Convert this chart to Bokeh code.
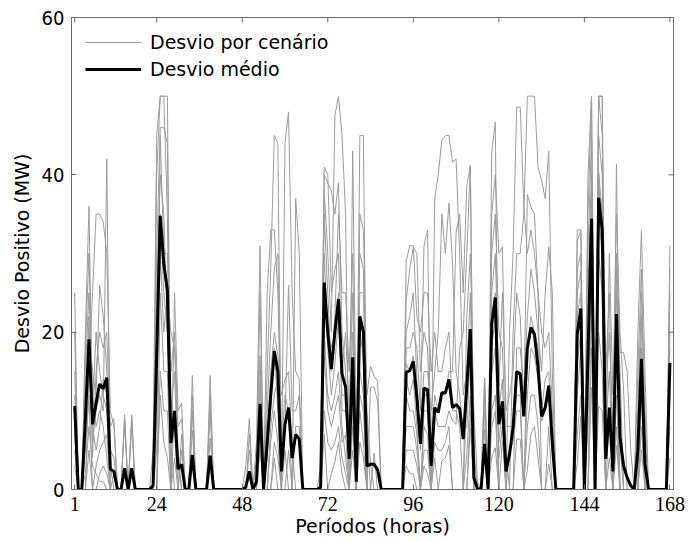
import math
from bokeh.plotting import figure
from bokeh.models import Range1d, FixedTicker, Legend, LegendItem
from bokeh.embed import file_html
from bokeh.resources import INLINE

# ---------------- data ----------------
hours = list(range(1, 169))
x_ticks = [1, 24, 48, 72, 96, 120, 144, 168]
y_ticks = [0, 20, 40, 60]
x_min, x_max = 0.1, 169
y_min, y_max = 0, 60

desvio_medio = [
    10.6, 0, 0, 9, 19.1, 8.3, 11, 13.4, 12.8, 14.2, 2.6, 2.3,
    0, 0, 2.7, 0, 2.7, 0, 0, 0, 0, 0, 0.5, 17,
    34.8, 28.7, 25.3, 5.9, 10, 2.6, 3.2, 0, 0, 4.4, 0, 0,
    0, 0, 4.3, 0, 0, 0, 0, 0, 0, 0, 0, 0,
    0.3, 2.3, 0, 1, 10.9, 0, 6, 12, 17.6, 15, 2.3, 8.3,
    10.4, 4, 7, 6.4, 0, 0, 0, 0, 0, 0.3, 26.3, 20,
    15.3, 20, 24.2, 14.7, 13, 3.9, 16.8, 1, 22, 20, 3, 3.2,
    3.2, 2.5, 0, 0, 0, 0, 0, 0, 0, 14.9, 15.1, 16.3,
    11.7, 5.8, 12.9, 12.7, 3, 10.4, 9.8, 12.3, 12.3, 14, 10.4, 10.8,
    10.3, 6.4, 13, 20.4, 1.5, 0.1, 0, 5.8, 0, 21, 24.4, 8.3,
    11.2, 2.3, 4.5, 7.9, 15, 14.7, 9.3, 18, 20.6, 19.7, 15.5, 9.3,
    10.4, 13.2, 6, 0, 0, 0, 0, 0, 0, 19.8, 23, 0,
    17, 34.4, 0, 37.1, 33, 3.9, 10.4, 2.3, 22.3, 6.6, 3, 1.5,
    0.5, 0, 5, 16.6, 3.2, 0, 0, 0, 0, 0, 0, 16.1,
]

cenario_01 = [
    12, 0, 0, 10, 20, 15, 12, 26, 22, 15, 8, 9,
    0, 0, 0, 0, 0, 0, 0, 0, 0, 0, 0, 40,
    50, 50, 50, 0, 0, 0, 0, 0, 0, 7.5, 0, 0,
    0, 0, 0, 0, 0, 0, 0, 0, 0, 0, 0, 0,
    0, 0, 0, 6, 31, 0, 0, 8, 12, 14, 0, 5,
    0, 0, 0, 0, 0, 0, 0, 0, 0, 0, 40, 39,
    38, 35, 39, 20, 15, 0, 15, 0, 15, 12, 0, 0,
    0, 0, 0, 0, 0, 0, 0, 0, 0, 20, 22, 25,
    14, 5, 12, 12, 0, 37, 40, 44.4, 45, 45, 41.6, 42,
    30, 12, 15, 25, 0, 0, 0, 0, 0, 30, 35, 20,
    18, 5, 0, 0, 0, 0, 0, 18, 22, 20, 18, 10,
    14, 15, 6, 0, 0, 0, 0, 0, 0, 25, 27.8, 0,
    40, 50, 0, 45, 40, 12, 20, 8, 28, 8, 0, 0,
    0, 0, 15, 28, 7, 0, 0, 0, 0, 0, 0, 20,
]

cenario_02 = [
    25, 0, 0, 2, 8, 3, 2, 1, 1, 0, 0, 0,
    0, 0, 0, 0, 9, 0, 0, 0, 0, 0, 0, 0,
    12, 6, 4, 0, 10, 0, 7, 0, 0, 12, 0, 0,
    0, 0, 0, 0, 0, 0, 0, 0, 0, 0, 0, 0,
    0, 7, 0, 0, 0, 0, 25, 33, 33, 25, 5, 12,
    10, 0, 0, 0, 0, 0, 0, 0, 0, 0, 30, 20,
    18, 20, 25, 10, 10, 6, 12, 0, 12, 10, 0, 0,
    4.6, 0, 0, 0, 0, 0, 0, 0, 0, 29, 31, 31,
    22, 20, 25, 25, 15, 20, 15, 15, 18, 20, 10, 10,
    8, 0, 4.4, 12, 0, 0, 0, 12, 0, 22, 25, 10,
    14, 0, 5, 6, 10, 10, 0, 8, 12, 12, 8, 0,
    0, 8, 0, 0, 0, 0, 0, 0, 0, 31.7, 32.9, 0,
    0, 18, 0, 30, 25, 0, 4, 0, 41.4, 5.6, 0, 0,
    0, 0, 0, 8, 0, 0, 0, 0, 0, 0, 0, 28,
]

cenario_03 = [
    5, 0, 0, 20, 36, 8, 5, 8, 14, 12, 3, 0,
    0, 0, 0, 0, 0, 0, 0, 0, 0, 0, 5, 45,
    50, 50, 35, 0, 4, 0, 0, 0, 0, 0, 0, 0,
    0, 0, 12, 0, 0, 0, 0, 0, 0, 0, 0, 0,
    0, 0, 0, 0, 25, 0, 0, 0, 6, 4, 0, 0,
    0, 0, 8, 8, 0, 0, 0, 0, 0, 0, 20, 12,
    10, 12, 15, 8, 4, 0, 5, 0, 45, 45, 0, 0,
    0, 0, 0, 0, 0, 0, 0, 0, 0, 14, 12, 14,
    8, 0, 10, 10, 0, 6, 5, 5, 6, 8, 0, 0,
    0, 0, 22, 30, 10, 1, 0, 0, 0, 10, 12, 0,
    6.2, 0, 0, 20, 30, 30, 35, 50, 50, 50, 41, 39.3,
    37, 43, 15, 0, 0, 0, 0, 0, 0, 3.3, 9.3, 0,
    25, 40, 0, 50, 45, 15, 25, 0, 5.6, 0, 0, 0,
    0, 0, 0, 12, 0, 0, 0, 0, 0, 0, 0, 8,
]

cenario_04 = [
    9, 0, 0, 0, 5, 0, 0, 2, 3, 2, 0, 0,
    0, 0, 9.5, 0, 0, 0, 0, 0, 0, 0, 0, 15,
    30, 20, 25, 20, 18, 5, 0, 0, 0, 0, 0, 0,
    0, 0, 0, 0, 0, 0, 0, 0, 0, 0, 0, 0,
    0, 2, 0, 0, 7, 0, 4, 10, 18, 10, 0, 0,
    5, 0, 0, 0, 0, 0, 0, 0, 0, 3, 41, 40,
    25, 28, 30, 15, 20, 10, 25, 0, 22, 20, 8, 0,
    0, 0, 0, 0, 0, 0, 0, 0, 0, 16, 15, 17,
    10, 8, 15, 15, 10, 15, 20, 35, 30, 36.4, 28.7, 15,
    12, 7, 8, 17, 0, 0, 0, 0, 0, 42.9, 46.7, 0,
    0, 0, 0, 0, 0, 0, 0, 0, 0, 0, 0, 0,
    0, 0, 0, 0, 0, 0, 0, 0, 0, 20, 22, 0,
    12, 35, 0, 50, 50, 0, 0, 0, 12, 0, 0, 0,
    0, 0, 0, 18, 0, 0, 0, 0, 0, 0, 0, 12,
]

cenario_05 = [
    0, 0, 0, 15, 25, 12, 8, 10, 8, 4, 0, 0,
    0, 0, 0, 0, 9.5, 0, 0, 0, 0, 0, 0, 0,
    15, 10, 10, 0, 25, 10, 11, 0, 0, 0, 0, 0,
    0, 0, 10, 0, 0, 0, 0, 0, 0, 0, 0, 0,
    0, 0, 0, 0, 14, 0, 0, 0, 0, 0, 0, 44,
    48, 25, 15, 14, 0, 0, 0, 0, 0, 0, 10, 6,
    5, 6, 8, 4, 2, 0, 0, 0, 35, 33, 12, 15.7,
    14.4, 13.8, 0, 0, 0, 0, 0, 0, 0, 8, 8, 8,
    5, 0, 5, 5, 0, 0, 0, 0, 0, 0, 0, 0,
    0, 0, 0, 0, 0, 0, 0, 14.2, 0, 4.1, 5.3, 0,
    0, 0, 0, 0, 6.4, 6.4, 0, 2.5, 7.1, 8, 4, 0,
    0, 0, 0, 0, 0, 0, 0, 0, 0, 33, 33, 0,
    0, 13, 0, 20, 15, 0, 10, 0, 30, 17.4, 17.4, 15,
    5, 0, 0, 0, 0, 0, 0, 0, 0, 0, 0, 25,
]

cenario_06 = [
    15, 0, 0, 5, 12, 0, 3, 5, 6, 7, 0, 0,
    0, 0, 9, 0, 0, 0, 0, 0, 0, 0, 0, 30,
    46, 46, 44, 6, 0, 0, 0, 0, 0, 10, 0, 0,
    0, 0, 0, 0, 0, 0, 0, 0, 0, 0, 0, 0,
    3, 9, 0, 0, 0, 0, 6, 15, 20, 17, 12, 14,
    15, 5, 0, 0, 0, 0, 0, 0, 0, 0, 38, 30,
    20, 47.5, 50, 45, 35, 0, 10, 0, 10, 6, 0, 0,
    0, 0, 0, 0, 0, 0, 0, 0, 0, 12, 10, 10,
    7, 0, 8, 7, 0, 4, 0, 3.6, 4, 5.6, 0, 0,
    0, 0, 0, 10, 0, 0, 0, 10, 0, 25, 30, 13,
    25, 10, 12, 15, 25, 22, 10, 37.5, 35.9, 35, 25, 20,
    18, 20, 10, 0, 0, 0, 0, 0, 0, 7, 12, 0,
    35, 50, 0, 10.6, 10, 0, 0, 0, 18, 0, 0, 0,
    0, 0, 10, 25, 10, 0, 0, 0, 0, 0, 0, 4,
]

cenario_07 = [
    3, 0, 0, 12, 18, 6, 10, 12, 10, 42, 0, 2,
    0, 0, 0, 0, 8.5, 0, 0, 0, 0, 0, 0, 25,
    40, 35, 20, 10, 15, 3, 0, 0, 0, 0, 0, 0,
    0, 0, 6.5, 0, 0, 0, 0, 0, 0, 0, 0, 0,
    0, 0, 0, 0, 5, 0, 15, 28, 45, 44, 0, 0,
    0, 0, 0, 0, 0, 0, 0, 0, 0, 0, 17, 10,
    8, 10, 12, 6, 7, 0, 8, 0, 6, 4, 0, 0,
    0, 0, 0, 0, 0, 0, 0, 0, 0, 24, 28, 30.8,
    30, 15, 20, 18, 5, 12, 10, 12, 12, 15, 15, 32.7,
    35, 25, 38.6, 41.2, 0, 0, 0, 0, 0, 18, 22, 6,
    10, 0, 0, 0, 0, 0, 0, 0, 0, 0, 0, 0,
    0, 0, 0, 0, 0, 0, 0, 0, 0, 28, 30, 0,
    8, 30, 0, 40.4, 35, 4, 30, 12, 35, 20, 12.6, 0,
    0, 0, 0, 5.1, 0, 0, 0, 0, 0, 0, 0, 15,
]

cenario_08 = [
    20, 0, 0, 0, 15, 25, 35, 35, 34, 30, 10, 8,
    0, 0, 0, 0, 0, 0, 0, 0, 0, 0, 0, 0,
    25, 15, 15, 0, 0, 0, 0, 0, 0, 14.5, 0, 0,
    0, 0, 0, 0, 0, 0, 0, 0, 0, 0, 0, 0,
    0, 0, 0, 4, 17, 0, 0, 0, 4, 0, 0, 0,
    0, 0, 37, 30, 0, 0, 0, 0, 0, 0, 7, 0,
    2, 3.5, 6, 2, 0, 0, 43, 6, 30, 28, 0, 0,
    0, 0, 0, 0, 0, 0, 0, 0, 0, 3, 2, 2,
    0, 0, 0, 0, 0, 0, 0, 0, 0, 0, 0, 0,
    0, 0, 12, 20, 5, 0, 0, 7.6, 0, 8, 10, 0,
    0, 0, 20, 30, 48.6, 48.6, 36, 30, 33, 30, 25, 0,
    0, 3.2, 0, 0, 0, 0, 0, 0, 0, 12, 18, 0,
    20, 38, 0, 35, 30, 0, 0, 0, 20, 0, 0, 0,
    0, 0, 20, 32.9, 15, 0, 0, 0, 0, 0, 0, 0,
]

cenario_09 = [
    7, 0, 0, 18, 30, 10, 20, 15, 12, 10, 0, 0,
    0, 0, 8.5, 0, 0, 0, 0, 0, 0, 0, 0, 10,
    35, 25, 20, 8, 8, 0, 5, 0, 0, 0, 0, 0,
    0, 0, 14.5, 0, 0, 0, 0, 0, 0, 0, 0, 0,
    0, 0, 0, 0, 10, 0, 0, 6, 10, 6, 0, 0,
    0, 0, 0, 0, 0, 0, 0, 0, 0, 0, 35, 25,
    15, 22, 35, 25, 25, 15, 30, 4, 25, 25, 10, 3.3,
    0, 0, 0, 0, 0, 0, 0, 0, 0, 5, 5, 5,
    3, 0, 3, 2, 0, 0, 0, 0, 0, 0, 0, 0,
    0, 0, 0, 7.8, 0, 0, 0, 14.2, 0, 35, 40, 30,
    30.8, 8, 8, 8, 12, 12, 0, 12, 18, 17, 14, 8.7,
    10, 12, 4, 0, 0, 0, 0, 0, 0, 22, 25, 0,
    0, 25, 0, 50, 50, 0, 0, 0, 8, 0, 0, 0,
    0, 0, 0, 15, 0, 0, 0, 0, 0, 0, 0, 31,
]

cenario_10 = [
    10, 0, 0, 8, 22, 4, 15, 20, 18, 20, 5, 4,
    0, 0, 0, 0, 0, 0, 0, 0, 0, 0, 0, 5,
    45, 30, 30, 15, 20, 8, 9, 0, 0, 0, 0, 0,
    0, 0, 0, 0, 0, 0, 0, 0, 0, 0, 0, 0,
    0, 5, 0, 0, 0, 0, 10, 20, 28, 30, 6, 8,
    26, 10, 10, 12, 0, 0, 0, 0, 0, 0, 25, 18,
    12, 16, 22, 12, 12, 8, 20, 0, 20, 17, 0, 13,
    13, 11.2, 0, 0, 0, 0, 0, 0, 0, 18, 18, 20,
    18, 10, 31, 33, 0, 10, 8, 8, 8, 10, 8.7, 8.3,
    18, 20, 30, 41, 0, 0, 0, 0, 0, 15, 18, 4,
    8, 0, 0, 0, 18, 18, 12, 22, 28, 25, 20, 15,
    25, 30.8, 25, 0, 0, 0, 0, 0, 0, 16, 20, 0,
    30, 45, 0, 40, 30, 8, 15, 3, 25, 15, 0, 0,
    0, 0, 5, 22, 0, 0, 0, 0, 0, 0, 0, 18,
]

cenarios = [cenario_01, cenario_02, cenario_03, cenario_04, cenario_05,
            cenario_06, cenario_07, cenario_08, cenario_09, cenario_10]

# ---------------- styles ----------------
X_TICK_FONT = "Liberation Sans Narrow"
Y_TICK_FONT = "DejaVu Sans Condensed"
LABEL_FONT = "DejaVu Sans"
AXIS_COLOR = "#6a6a6a"
SCEN_COLOR = "#9c9c9c"

p = figure(width=689, height=542, output_backend="svg", toolbar_location=None,
           x_range=Range1d(x_min, x_max), y_range=Range1d(y_min, y_max),
           min_border_left=71, min_border_right=16,
           min_border_top=17, min_border_bottom=53)
p.background_fill_color = "white"
p.border_fill_color = "white"
p.outline_line_color = AXIS_COLOR
p.xgrid.visible = False
p.ygrid.visible = False

scen_renderers = []
for vals in cenarios:
    r = p.line(hours, vals, line_color=SCEN_COLOR, line_width=1)
    scen_renderers.append(r)
r_mean = p.line(hours, desvio_medio, line_color="black", line_width=3)

# inward ticks on the top and right sides of the box (MATLAB style)
p.scatter(x_ticks, [y_max] * len(x_ticks), marker="dash", size=10,
          angle=math.pi / 2, line_color=AXIS_COLOR, line_width=1)
p.scatter([x_max] * len(y_ticks), y_ticks, marker="dash", size=10,
          angle=0, line_color=AXIS_COLOR, line_width=1)


def style_axis(ax, ticks, tick_font):
    ax.ticker = FixedTicker(ticks=ticks)
    ax.minor_tick_line_color = None
    ax.major_tick_in = 5
    ax.major_tick_out = 0
    ax.axis_line_color = AXIS_COLOR
    ax.major_tick_line_color = AXIS_COLOR
    ax.major_label_text_font = tick_font
    ax.major_label_text_font_size = "20px"
    ax.major_label_text_color = "black"
    ax.major_label_standoff = 7
    ax.axis_label_text_font = LABEL_FONT
    ax.axis_label_text_font_size = "19px"
    ax.axis_label_text_font_style = "normal"
    ax.axis_label_text_color = "black"
    ax.axis_label_standoff = 1


xb = p.xaxis[0]
yl = p.yaxis[0]
style_axis(xb, x_ticks, X_TICK_FONT)
style_axis(yl, y_ticks, Y_TICK_FONT)
xb.axis_label = "Períodos (horas)"
yl.axis_label = "Desvio Positivo (MW)"
yl.axis_label_standoff = 6

legend = Legend(items=[
    LegendItem(label="Desvio por cenário", renderers=[scen_renderers[0]]),
    LegendItem(label="Desvio médio", renderers=[r_mean]),
], location="top_left")
legend.background_fill_alpha = 0
legend.border_line_alpha = 0
legend.glyph_width = 56
legend.glyph_height = 20
legend.label_height = 20
legend.spacing = 5
legend.padding = 7
legend.margin = 7
legend.label_standoff = 9
legend.label_text_font = LABEL_FONT
legend.label_text_font_size = "19px"
legend.label_text_color = "black"
p.add_layout(legend)

open("out.html", "w").write(file_html(p, INLINE))
